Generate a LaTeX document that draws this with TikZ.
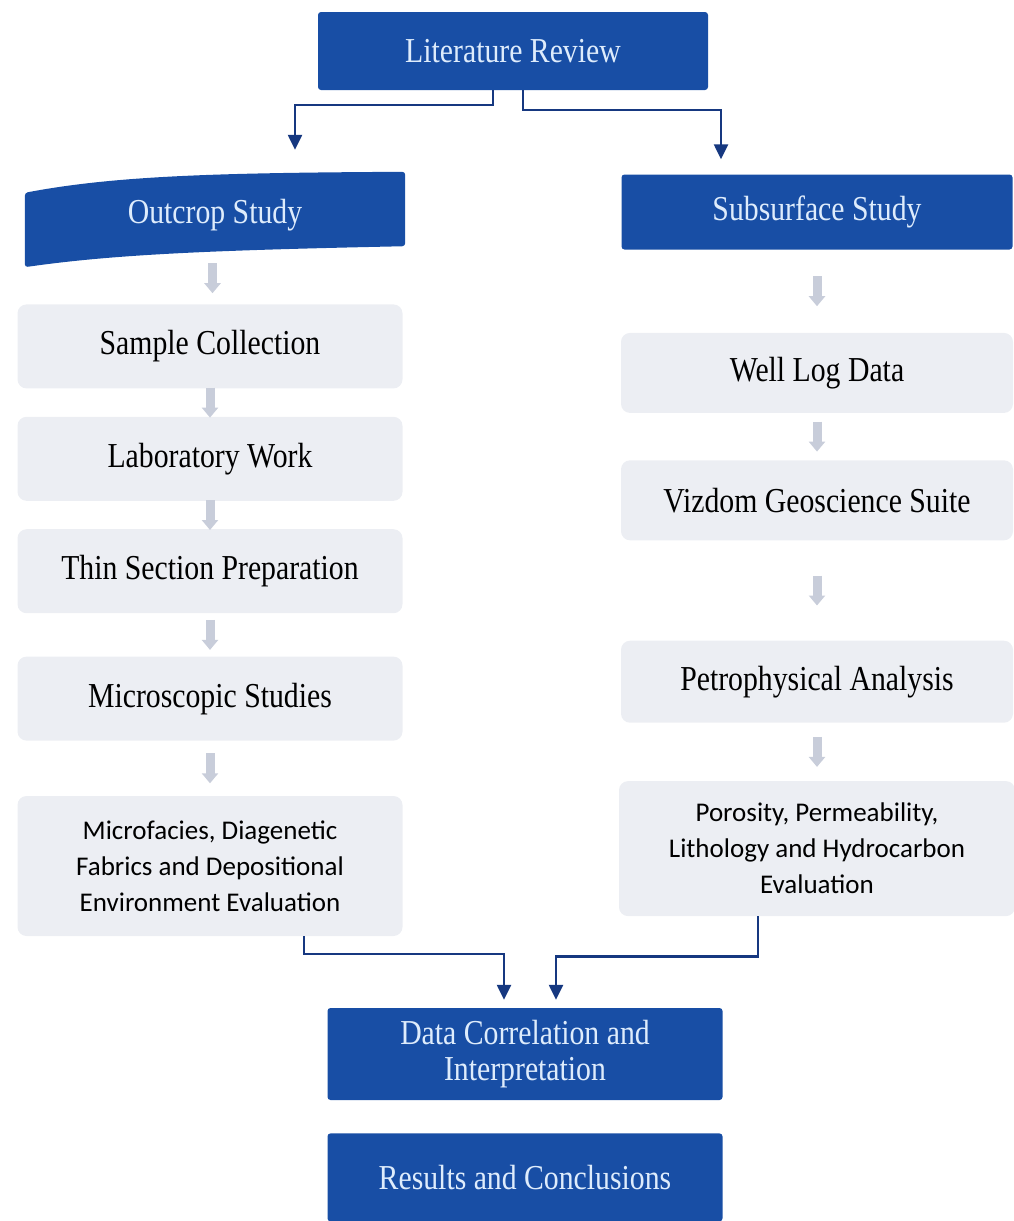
\documentclass[tikz,border=0pt]{standalone}
\usepackage{fontspec}
\setmainfont{Liberation Serif}[FakeStretch=0.85]
\newfontfamily\notefont{Carlito}
\usetikzlibrary{arrows.meta,positioning,calc,backgrounds}
\tikzset{every picture/.style={/utils/exec={\rmfamily\fontsize{35}{36}\selectfont}}}

\definecolor{headblue}{RGB}{24,78,165}
\definecolor{headtext}{RGB}{222,236,252}
\definecolor{stepgray}{RGB}{236,238,243}
\definecolor{flowgray}{RGB}{200,205,218}
\definecolor{linkblue}{RGB}{22,56,128}

% short grey arrow centred in the gap between two boxes
\newcommand{\gapflow}[2]{\draw[flow] ($(#1.south)!.5!(#2.north)+(0,-15)$) -- ($(#1.south)!.5!(#2.north)+(0,15)$);}

\begin{document}
\begin{tikzpicture}[x=1pt,y=-1pt]
  \tikzstyle{head} = [rectangle, rounded corners=3pt, fill=headblue, text=headtext, minimum width=390pt, minimum height=78pt, align=center, inner sep=0pt]
  \tikzstyle{stepbox} = [rectangle, rounded corners=9pt, fill=stepgray, text=black, minimum width=385pt, minimum height=84pt, align=center, inner sep=0pt]
  \tikzstyle{notebox} = [stepbox, minimum height=140pt, font=\notefont\fontsize{27}{36}\selectfont]
  \tikzstyle{flow} = [draw=flowgray, line width=9pt, -{Triangle[width=16pt,length=10pt]}]
  \tikzstyle{link} = [draw=linkblue, line width=2.4pt, -{Triangle[width=14pt,length=15pt]}]

  \useasboundingbox (0,0) rectangle (1013,1221);

  \node (lit) [head] at (513,51) {Literature Review};
  \node (outcrop) [head, fill=none, minimum width=380pt, minimum height=74pt] at (215,215) {Outcrop Study};
  \node (subsurface) [head, minimum width=391pt, minimum height=75pt] at (817,212) {Subsurface Study};

  % outcrop column
  \node (sample) [stepbox, below=52pt of outcrop, xshift=-5pt] {Sample Collection};
  \node (lab) [stepbox, below=28pt of sample] {Laboratory Work};
  \node (thin) [stepbox, below=28pt of lab] {Thin Section Preparation};
  \node (micro) [stepbox, below=43pt of thin] {Microscopic Studies};
  \node (micfac) [notebox, below=55pt of micro] {Microfacies, Diagenetic\\Fabrics and Depositional\\Environment Evaluation};

  % subsurface column
  \node (welllog) [stepbox, minimum width=392pt, minimum height=80pt, below=83pt of subsurface] {Well Log Data};
  \node (vizdom) [stepbox, minimum width=392pt, minimum height=80pt, below=47pt of welllog] {Vizdom Geoscience Suite};
  \node (petro) [stepbox, minimum width=392pt, minimum height=82pt, below=100pt of vizdom] {Petrophysical Analysis};
  \node (porosity) [notebox, minimum width=396pt, minimum height=135pt, below=58pt of petro] {Porosity, Permeability,\\Lithology and Hydrocarbon\\Evaluation};

  \node (data) [head, minimum width=395pt, minimum height=92pt] at (525,1054) {Data Correlation and\\Interpretation};
  \node (results) [head, minimum width=395pt, minimum height=88pt, below=33pt of data] {Results and Conclusions};

  % bent banner behind the outcrop title
  \begin{scope}[on background layer]
    \fill[headblue, rounded corners=3pt] ($(outcrop.north west)+(0,15)$)
      .. controls ($(outcrop.north west)+(90,-2)$) and ($(outcrop.north)+(0,-5)$) .. ($(outcrop.north east)+(0,-6)$)
      -- ($(outcrop.south east)+(0,-6)$)
      .. controls ($(outcrop.south)+(0,-2)$) and ($(outcrop.south west)+(90,2)$) .. ($(outcrop.south west)+(0,15)$)
      -- cycle;
  \end{scope}

  \draw [link, shorten >=28pt] ([xshift=-20pt]lit.south) -- ++(0,15) -| ([xshift=80pt]outcrop.north);
  \draw [link, shorten >=15pt] ([xshift=10pt]lit.south) -- ++(0,20) -| ([xshift=-96pt]subsurface.north);

  \gapflow{outcrop}{sample}
  \gapflow{sample}{lab}
  \gapflow{lab}{thin}
  \gapflow{thin}{micro}
  \gapflow{micro}{micfac}

  \gapflow{subsurface}{welllog}
  \gapflow{welllog}{vizdom}
  \gapflow{vizdom}{petro}
  \gapflow{petro}{porosity}

  \draw [link, shorten >=8pt] ([xshift=94pt]micfac.south) -- ++(0,18) -| ([xshift=-21pt]data.north);
  \draw [link, shorten >=8pt] ([xshift=-59pt]porosity.south) -- ++(0,40) -| ([xshift=31pt]data.north);
\end{tikzpicture}
\end{document}
